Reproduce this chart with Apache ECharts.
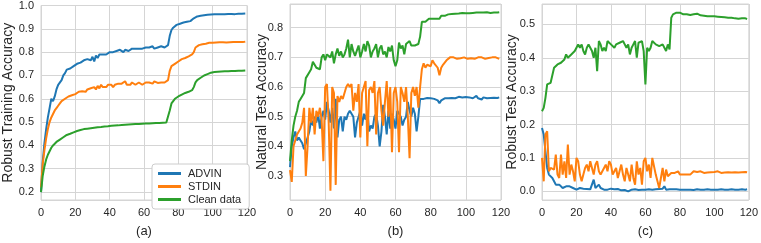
<!DOCTYPE html>
<html>
<head>
<meta charset="utf-8">
<script src="https://cdn.jsdelivr.net/npm/echarts@6/dist/echarts.min.js"></script>
<style>
  html, body { margin: 0; padding: 0; background: #fff; }
  #chart { width: 761px; height: 243px; }
</style>
</head>
<body>
<div id="chart"></div>
<script>
// epoch index 0..119 (x positions)
const epochs = Array.from({ length: 120 }, (_, i) => i)
const seriesNames = ['ADVIN', 'STDIN', 'Clean data']
const colors = ['#1f77b4', '#ff7f0e', '#2ca02c']

// (a) robust training accuracy
const aAdvin = [
  0.20,0.33,0.41,0.47,0.52,0.56,0.60,0.59,0.61,0.64,
  0.66,0.665,0.68,0.70,0.71,0.725,0.72,0.73,0.735,0.74,
  0.745,0.75,0.755,0.755,0.76,0.765,0.76,0.77,0.77,0.765,
  0.78,0.76,0.785,0.775,0.79,0.785,0.79,0.795,0.79,0.795,
  0.80,0.795,0.80,0.80,0.805,0.80,0.81,0.805,0.80,0.81,
  0.81,0.805,0.81,0.815,0.81,0.815,0.81,0.815,0.82,0.815,
  0.82,0.82,0.815,0.82,0.82,0.825,0.815,0.82,0.82,0.82,
  0.825,0.82,0.82,0.825,0.83,0.87,0.895,0.905,0.912,0.917,
  0.92,0.922,0.925,0.927,0.928,0.93,0.932,0.933,0.935,0.945,
  0.95,0.953,0.955,0.956,0.957,0.958,0.959,0.96,0.96,0.961,
  0.961,0.962,0.962,0.962,0.963,0.963,0.962,0.963,0.963,0.964,
  0.963,0.964,0.964,0.963,0.964,0.965,0.964,0.965,0.965,0.966
]
const aStdin = [
  0.22,0.32,0.38,0.43,0.47,0.50,0.52,0.535,0.55,0.56,
  0.57,0.58,0.59,0.595,0.60,0.605,0.61,0.612,0.615,0.62,
  0.62,0.625,0.63,0.628,0.632,0.635,0.63,0.64,0.635,0.645,
  0.64,0.65,0.64,0.655,0.645,0.66,0.65,0.655,0.65,0.66,
  0.655,0.66,0.65,0.66,0.655,0.665,0.66,0.665,0.66,0.675,
  0.66,0.665,0.66,0.67,0.665,0.66,0.665,0.67,0.665,0.66,
  0.665,0.67,0.665,0.67,0.67,0.665,0.675,0.67,0.668,0.665,
  0.67,0.672,0.67,0.675,0.68,0.72,0.74,0.745,0.75,0.755,
  0.76,0.765,0.77,0.772,0.775,0.78,0.782,0.785,0.79,0.80,
  0.82,0.825,0.83,0.832,0.834,0.835,0.836,0.838,0.84,0.84,
  0.84,0.84,0.841,0.84,0.842,0.841,0.842,0.842,0.841,0.843,
  0.842,0.842,0.843,0.842,0.843,0.844,0.843,0.843,0.844,0.845
]
const aClean = [
  0.20,0.27,0.31,0.34,0.36,0.375,0.39,0.40,0.408,0.415,
  0.42,0.425,0.43,0.435,0.44,0.445,0.448,0.45,0.453,0.456,
  0.46,0.462,0.464,0.466,0.468,0.47,0.471,0.472,0.473,0.474,
  0.475,0.476,0.477,0.478,0.478,0.479,0.48,0.481,0.481,0.482,
  0.483,0.484,0.484,0.485,0.486,0.486,0.487,0.488,0.488,0.489,
  0.489,0.49,0.49,0.491,0.491,0.492,0.492,0.492,0.493,0.493,
  0.493,0.494,0.494,0.494,0.495,0.495,0.495,0.496,0.496,0.496,
  0.497,0.497,0.497,0.498,0.50,0.55,0.58,0.59,0.60,0.605,
  0.61,0.615,0.618,0.62,0.625,0.628,0.63,0.633,0.637,0.65,
  0.67,0.68,0.685,0.69,0.695,0.70,0.703,0.706,0.71,0.712,
  0.715,0.715,0.716,0.716,0.717,0.717,0.717,0.718,0.718,0.718,
  0.718,0.719,0.719,0.719,0.719,0.72,0.72,0.72,0.72,0.721
]

// (b) natural test accuracy
const bAdvin = [
  0.33,0.40,0.43,0.45,0.42,0.43,0.42,0.41,0.39,0.41,
  0.43,0.45,0.49,0.47,0.50,0.48,0.51,0.46,0.50,0.52,
  0.49,0.55,0.52,0.48,0.53,0.46,0.56,0.43,0.49,0.50,
  0.45,0.50,0.49,0.51,0.52,0.51,0.50,0.43,0.48,0.50,
  0.52,0.47,0.51,0.49,0.52,0.45,0.47,0.46,0.50,0.51,
  0.47,0.40,0.45,0.54,0.50,0.44,0.52,0.46,0.51,0.49,
  0.46,0.52,0.51,0.50,0.47,0.49,0.50,0.55,0.52,0.50,
  0.53,0.51,0.45,0.50,0.56,0.565,0.56,0.565,0.563,0.567,
  0.562,0.565,0.56,0.562,0.555,0.545,0.555,0.56,0.562,0.565,
  0.562,0.565,0.563,0.566,0.562,0.565,0.567,0.563,0.565,0.564,
  0.566,0.563,0.565,0.567,0.562,0.565,0.57,0.562,0.566,0.558,
  0.565,0.57,0.562,0.566,0.563,0.567,0.564,0.566,0.563,0.565
]
const bStdin = [
  0.32,0.28,0.40,0.42,0.44,0.45,0.46,0.48,0.53,0.30,
  0.40,0.53,0.48,0.53,0.44,0.52,0.50,0.53,0.49,0.35,
  0.60,0.61,0.48,0.25,0.60,0.58,0.27,0.57,0.55,0.57,
  0.56,0.58,0.60,0.61,0.60,0.61,0.52,0.58,0.55,0.61,
  0.43,0.58,0.60,0.62,0.40,0.59,0.60,0.58,0.62,0.44,
  0.58,0.60,0.52,0.47,0.55,0.62,0.50,0.60,0.38,0.58,
  0.60,0.55,0.38,0.60,0.58,0.55,0.60,0.50,0.36,0.58,
  0.60,0.57,0.60,0.53,0.60,0.66,0.68,0.665,0.675,0.68,
  0.67,0.69,0.68,0.68,0.665,0.64,0.665,0.675,0.68,0.69,
  0.695,0.70,0.695,0.70,0.698,0.695,0.70,0.697,0.695,0.70,
  0.698,0.695,0.70,0.697,0.70,0.695,0.698,0.70,0.696,0.70,
  0.697,0.695,0.70,0.698,0.695,0.70,0.697,0.70,0.703,0.695
]
const bClean = [
  0.35,0.42,0.47,0.50,0.52,0.55,0.56,0.57,0.58,0.63,
  0.635,0.65,0.66,0.685,0.675,0.665,0.67,0.66,0.70,0.71,
  0.69,0.71,0.715,0.70,0.72,0.68,0.71,0.73,0.705,0.72,
  0.70,0.71,0.73,0.76,0.70,0.745,0.72,0.705,0.71,0.74,
  0.70,0.72,0.745,0.72,0.755,0.74,0.70,0.72,0.73,0.745,
  0.70,0.73,0.74,0.71,0.72,0.70,0.735,0.72,0.74,0.69,
  0.67,0.69,0.75,0.73,0.74,0.71,0.745,0.75,0.755,0.74,
  0.735,0.74,0.745,0.745,0.77,0.82,0.825,0.82,0.825,0.83,
  0.835,0.83,0.825,0.83,0.835,0.83,0.84,0.835,0.84,0.845,
  0.845,0.847,0.846,0.848,0.847,0.849,0.848,0.849,0.85,0.848,
  0.849,0.85,0.849,0.851,0.85,0.849,0.851,0.85,0.851,0.85,
  0.851,0.85,0.852,0.851,0.85,0.852,0.851,0.852,0.851,0.852
]

// (c) robust test accuracy
const cAdvin = [
  0.19,0.17,0.12,0.07,0.05,0.055,0.04,0.03,0.02,0.025,
  0.02,0.015,0.01,0.01,0.015,0.02,0.015,0.015,0.01,0.01,
  0.005,0.008,0.01,0.006,0.008,0.005,0.007,0.01,0.006,0.008,
  0.035,0.01,0.005,0.02,0.01,0.006,0.005,0.008,0.005,0.006,
  0.008,0.005,0.006,0.004,0.007,0.005,0.003,0.006,0.004,0.005,
  0.0,0.003,0.005,0.004,0.006,0.005,0.004,0.003,0.005,0.006,
  0.005,0.004,0.006,0.008,0.005,0.01,0.006,0.005,0.007,0.006,
  0.008,0.015,0.005,0.007,0.006,0.005,0.006,0.005,0.006,0.005,
  0.005,0.006,0.005,0.004,0.005,0.006,0.005,0.005,0.004,0.005,
  0.006,0.005,0.005,0.006,0.005,0.005,0.006,0.005,0.005,0.006,
  0.005,0.006,0.005,0.005,0.006,0.005,0.005,0.006,0.005,0.005,
  0.006,0.005,0.005,0.006,0.005,0.005,0.006,0.005,0.005,0.006
]
const cStdin = [
  0.10,0.03,0.17,0.18,0.06,0.07,0.07,0.065,0.11,0.05,
  0.04,0.11,0.05,0.09,0.04,0.14,0.05,0.08,0.06,0.03,
  0.10,0.09,0.05,0.03,0.05,0.07,0.08,0.06,0.09,0.07,
  0.05,0.08,0.09,0.06,0.05,0.06,0.07,0.08,0.06,0.09,
  0.08,0.05,0.06,0.07,0.04,0.06,0.08,0.05,0.03,0.07,
  0.05,0.03,0.08,0.04,0.02,0.09,0.05,0.07,0.02,0.09,
  0.10,0.06,0.08,0.04,0.10,0.10,0.05,0.03,0.01,0.04,
  0.07,0.03,0.065,0.045,0.04,0.055,0.06,0.055,0.06,0.06,
  0.05,0.055,0.05,0.045,0.05,0.055,0.05,0.055,0.06,0.055,
  0.058,0.055,0.06,0.057,0.055,0.058,0.056,0.06,0.057,0.055,
  0.058,0.056,0.06,0.057,0.055,0.058,0.056,0.06,0.057,0.058,
  0.056,0.058,0.057,0.06,0.056,0.058,0.057,0.059,0.058,0.057
]
const cClean = [
  0.24,0.25,0.28,0.32,0.32,0.325,0.33,0.37,0.365,0.38,
  0.375,0.385,0.38,0.395,0.41,0.40,0.405,0.41,0.415,0.42,
  0.43,0.44,0.43,0.44,0.42,0.41,0.43,0.44,0.43,0.42,
  0.40,0.43,0.36,0.45,0.44,0.42,0.43,0.42,0.45,0.45,
  0.44,0.44,0.43,0.44,0.44,0.445,0.44,0.45,0.44,0.43,
  0.44,0.41,0.43,0.44,0.45,0.40,0.445,0.44,0.45,0.42,
  0.32,0.43,0.42,0.43,0.45,0.445,0.44,0.44,0.435,0.43,
  0.44,0.435,0.42,0.44,0.425,0.52,0.53,0.535,0.535,0.54,
  0.535,0.535,0.53,0.535,0.53,0.53,0.528,0.527,0.53,0.533,
  0.532,0.528,0.527,0.525,0.526,0.525,0.524,0.525,0.524,0.523,
  0.524,0.522,0.523,0.521,0.522,0.52,0.521,0.519,0.52,0.518,
  0.52,0.519,0.518,0.52,0.517,0.519,0.518,0.52,0.518,0.516
]

const panels = [
  { label: '(a)', yName: 'Robust Training Accuracy', left: 38, width: 209, min: 0.166, max: 1.0, split: 8, gap: 26, data: [aAdvin, aStdin, aClean] },
  { label: '(b)', yName: 'Natural Test Accuracy', left: 290, width: 211, min: 0.219, max: 0.88, split: 6, gap: 21, data: [bAdvin, bStdin, bClean] },
  { label: '(c)', yName: 'Robust Test Accuracy', left: 542, width: 210, min: -0.026, max: 0.561, split: 6, gap: 23, data: [cAdvin, cStdin, cClean] },
]

const font = 'Liberation Sans, Arial, sans-serif'
const gridColor = '#d5d5d5'
const textColor = '#262626'

// only show labels on multiples of 0.1
function tenthLabel(v) {
  const k = Math.round(v * 10)
  if (Math.abs(v * 10 - k) > 1e-6) return ''
  return (k / 10).toFixed(1)
}

const chart = echarts.init(document.getElementById('chart'), null, { renderer: 'canvas' })

const option = {
  animation: false,
  backgroundColor: '#ffffff',
  grid: panels.map((p) => ({
    left: p.left, top: 4, width: p.width, height: 205,
    show: true, borderColor: gridColor, borderWidth: 1, containLabel: false,
  })),
  xAxis: panels.map((p, i) => ({
    gridIndex: i,
    type: 'value',
    min: 0, max: 120, interval: 20,
    name: p.label,
    nameLocation: 'middle',
    nameGap: 25,
    nameMoveOverlap: false,
    nameTextStyle: { fontFamily: font, fontSize: 13, color: textColor },
    axisLine: { show: false },
    axisTick: { show: false },
    axisLabel: { fontFamily: font, fontSize: 11, color: textColor, margin: 7 },
    splitLine: { show: true, lineStyle: { color: gridColor, width: 1 } },
  })),
  yAxis: panels.map((p, i) => ({
    gridIndex: i,
    type: 'value',
    min: p.min, max: p.max, splitNumber: p.split,
    name: p.yName,
    nameLocation: 'middle',
    nameGap: p.gap,
    nameMoveOverlap: false,
    nameTextStyle: { fontFamily: font, fontSize: 14, color: textColor },
    axisLine: { show: false },
    axisTick: { show: false },
    axisLabel: { fontFamily: font, fontSize: 11, color: textColor, margin: 7, formatter: tenthLabel },
    splitLine: { show: true, lineStyle: { color: gridColor, width: 1 } },
  })),
  legend: {
    data: seriesNames,
    orient: 'vertical',
    left: 152, top: 164,
    padding: [4, 8, 4, 6],
    itemGap: 2,
    itemWidth: 23, itemHeight: 3,
    icon: 'rect',
    backgroundColor: '#ffffff',
    borderColor: '#cccccc', borderWidth: 1, borderRadius: 3,
    textStyle: { fontFamily: font, fontSize: 11, color: textColor, padding: [0, 0, 0, 2] },
  },
  series: panels.flatMap((p, i) => p.data.map((arr, k) => ({
    name: seriesNames[k],
    type: 'line',
    xAxisIndex: i, yAxisIndex: i,
    showSymbol: false,
    color: colors[k],
    lineStyle: { width: 2, color: colors[k] },
    data: epochs.map((e, j) => [e, arr[j]]),
  }))),
}

chart.setOption(option)
</script>
</body>
</html>
